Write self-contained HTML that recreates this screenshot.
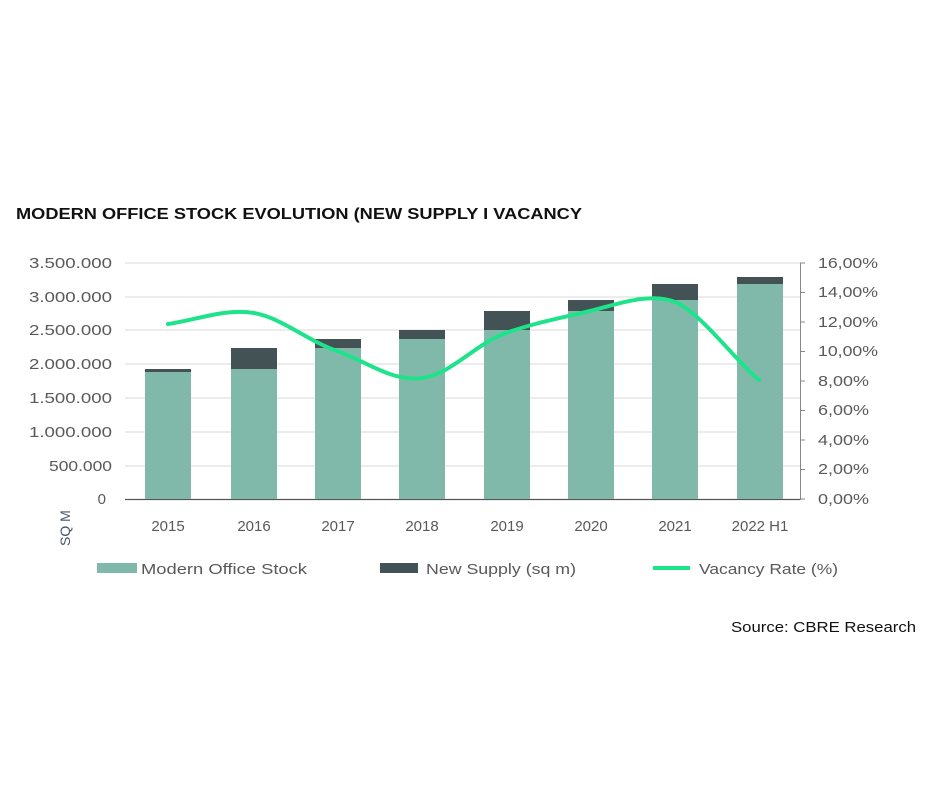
<!DOCTYPE html>
<html><head><meta charset="utf-8"><style>
html,body{margin:0;padding:0;background:#fff;width:940px;height:788px;overflow:hidden}
svg{display:block}
text{font-family:"Liberation Sans",sans-serif}
</style></head><body>
<svg width="940" height="788" viewBox="0 0 940 788">
<text x="16" y="219" font-size="15.5" font-weight="bold" fill="#111" textLength="566" lengthAdjust="spacingAndGlyphs">MODERN OFFICE STOCK EVOLUTION (NEW SUPPLY I VACANCY</text>
<g stroke="#d9d9d9" stroke-width="1">
<line x1="125" x2="800" y1="263" y2="263"/><line x1="125" x2="800" y1="297" y2="297"/>
<line x1="125" x2="800" y1="330" y2="330"/><line x1="125" x2="800" y1="364" y2="364"/>
<line x1="125" x2="800" y1="398" y2="398"/><line x1="125" x2="800" y1="432" y2="432"/>
<line x1="125" x2="800" y1="466" y2="466"/>
</g>
<line x1="125" x2="800" y1="499.5" y2="499.5" stroke="#555" stroke-width="1.2"/>
<line x1="800.5" x2="800.5" y1="263" y2="500" stroke="#888"/>
<g stroke="#888"><line x1="800" x2="805" y1="263" y2="263"/><line x1="800" x2="805" y1="292.5" y2="292.5"/><line x1="800" x2="805" y1="322" y2="322"/><line x1="800" x2="805" y1="351.5" y2="351.5"/><line x1="800" x2="805" y1="381" y2="381"/><line x1="800" x2="805" y1="410.5" y2="410.5"/><line x1="800" x2="805" y1="440" y2="440"/><line x1="800" x2="805" y1="469.5" y2="469.5"/><line x1="800" x2="805" y1="499" y2="499"/></g>
<g font-size="15" fill="#595959" text-anchor="end">
<text x="112" y="268" textLength="83" lengthAdjust="spacingAndGlyphs">3.500.000</text><text x="112" y="302" textLength="83" lengthAdjust="spacingAndGlyphs">3.000.000</text><text x="112" y="335" textLength="83" lengthAdjust="spacingAndGlyphs">2.500.000</text><text x="112" y="369" textLength="83" lengthAdjust="spacingAndGlyphs">2.000.000</text><text x="112" y="403" textLength="83" lengthAdjust="spacingAndGlyphs">1.500.000</text><text x="112" y="437" textLength="83" lengthAdjust="spacingAndGlyphs">1.000.000</text><text x="112" y="471" textLength="63" lengthAdjust="spacingAndGlyphs">500.000</text><text x="106" y="504">0</text>
</g>
<g font-size="15" fill="#595959">
<text x="818" y="268" textLength="60" lengthAdjust="spacingAndGlyphs">16,00%</text><text x="818" y="297" textLength="60" lengthAdjust="spacingAndGlyphs">14,00%</text><text x="818" y="327" textLength="60" lengthAdjust="spacingAndGlyphs">12,00%</text><text x="818" y="356" textLength="60" lengthAdjust="spacingAndGlyphs">10,00%</text><text x="818" y="386" textLength="51" lengthAdjust="spacingAndGlyphs">8,00%</text><text x="818" y="415" textLength="51" lengthAdjust="spacingAndGlyphs">6,00%</text><text x="818" y="445" textLength="51" lengthAdjust="spacingAndGlyphs">4,00%</text><text x="818" y="474" textLength="51" lengthAdjust="spacingAndGlyphs">2,00%</text><text x="818" y="504" textLength="51" lengthAdjust="spacingAndGlyphs">0,00%</text>
</g>
<g fill="#80b9aa">
<rect x="145" y="372" width="46" height="127"/><rect x="231" y="369" width="46" height="130"/><rect x="315" y="348" width="46" height="151"/><rect x="399" y="339" width="46" height="160"/><rect x="484" y="330" width="46" height="169"/><rect x="568" y="311" width="46" height="188"/><rect x="652" y="300" width="46" height="199"/><rect x="737" y="284" width="46" height="215"/>
</g>
<g fill="#435254">
<rect x="145" y="369" width="46" height="3"/><rect x="231" y="348" width="46" height="21"/><rect x="315" y="339" width="46" height="9"/><rect x="399" y="330" width="46" height="9"/><rect x="484" y="311" width="46" height="19"/><rect x="568" y="300" width="46" height="11"/><rect x="652" y="284" width="46" height="16"/><rect x="737" y="277" width="46" height="7"/>
</g>
<path d="M168,324 C196,320 226,308 254,313 C282,318 306,340 337,351 C368,362 392,382 422,378 C452,374 475,344 506,333 C537,322 562,318 590,311 C618,304 650,292 675,302 C700,312 733,358 759,380" fill="none" stroke="#1ee38a" stroke-width="4" stroke-linecap="round"/>
<g font-size="15" fill="#595959" text-anchor="middle">
<text x="168" y="531">2015</text><text x="254" y="531">2016</text><text x="338" y="531">2017</text><text x="422" y="531">2018</text><text x="507" y="531">2019</text><text x="591" y="531">2020</text><text x="675" y="531">2021</text><text x="760" y="531">2022 H1</text>
</g>
<text transform="translate(70,546) rotate(-90)" font-size="14" fill="#44546a">SQ M</text>
<rect x="97" y="563" width="40" height="10" fill="#80b9aa"/>
<text x="141" y="574" font-size="15" fill="#595959" textLength="166" lengthAdjust="spacingAndGlyphs">Modern Office Stock</text>
<rect x="380" y="563" width="38" height="10" fill="#435254"/>
<text x="426" y="574" font-size="15" fill="#595959" textLength="150" lengthAdjust="spacingAndGlyphs">New Supply (sq m)</text>
<line x1="653" x2="690" y1="568" y2="568" stroke="#1ee38a" stroke-width="4"/>
<text x="699" y="574" font-size="15" fill="#595959" textLength="139" lengthAdjust="spacingAndGlyphs">Vacancy Rate (%)</text>
<text x="916" y="632" font-size="15" fill="#111" text-anchor="end" textLength="185" lengthAdjust="spacingAndGlyphs">Source: CBRE Research</text>
</svg>
</body></html>
